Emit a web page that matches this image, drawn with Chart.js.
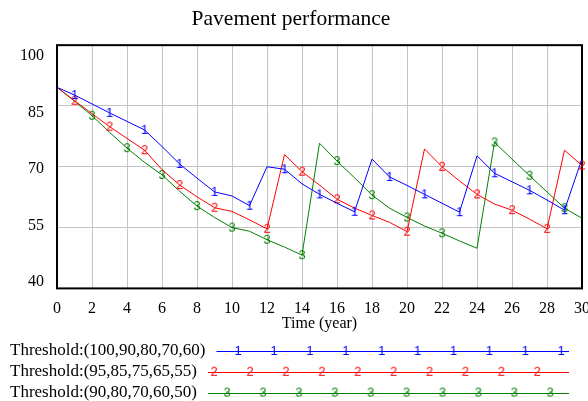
<!DOCTYPE html>
<html>
<head>
<meta charset="utf-8">
<title>Pavement performance</title>
<script src="https://cdn.jsdelivr.net/npm/chart.js@4.4.1/dist/chart.umd.min.js"></script>
<style>
  html, body { margin: 0; padding: 0; background: #fff; }
  #wrap { position: relative; width: 588px; height: 401px; }
</style>
</head>
<body>
<div id="wrap"><canvas id="chart" width="588" height="401"></canvas></div>
<script>
// time axis, one value per year
const years = [0,1,2,3,4,5,6,7,8,9,10,11,12,13,14,15,16,17,18,19,20,21,22,23,24,25,26,27,28,29,30]

const threshold1 = [89.6, 87.7, 85.5, 83.3, 81.2, 79.1, 75.0, 70.7, 67.2, 63.8, 62.8, 60.4, 70.0, 69.4, 65.8, 63.2,
                    61.0, 58.9, 71.9, 67.5, 65.4, 63.2, 61.0, 58.8, 72.7, 68.4, 66.3, 64.2, 61.8, 59.3, 72.0]
const threshold2 = [89.6, 86.3, 83.1, 79.9, 77.0, 74.1, 69.3, 65.5, 62.6, 59.9, 59.0, 56.9, 54.7, 73.0, 68.8, 65.5,
                    62.0, 59.8, 58.0, 56.3, 54.0, 74.4, 70.0, 66.5, 63.2, 60.8, 59.3, 57.1, 54.7, 74.1, 70.3]
const threshold3 = [89.6, 86.2, 82.6, 78.5, 74.6, 71.1, 68.0, 64.0, 60.3, 57.5, 55.0, 54.1, 52.0, 50.2, 48.2, 75.8,
                    71.4, 67.3, 63.0, 59.8, 57.5, 55.4, 53.6, 51.7, 49.9, 76.0, 71.9, 67.8, 63.8, 59.8, 57.3]

const seriesNames = ["Threshold:(100,90,80,70,60)", "Threshold:(95,85,75,65,55)", "Threshold:(90,80,70,60,50)"]

// years where the numbered marker sits on each curve
const marks1 = [1,3,5,7,9,11,13,15,17,19,21,23,25,27,29]
const marks2 = [1,3,5,7,9,12,14,16,18,20,22,24,26,28,30]
const marks3 = [2,4,6,8,10,12,14,16,18,20,22,25,27,29]

const yTicks = [40, 55, 70, 85, 100]

const serif = "'Liberation Serif', 'Times New Roman', serif"
const colors = ["#0000ff", "#ff0000", "#008000"]

function markerImg(ch, color){
    const c = document.createElement("canvas")
    c.width = 12
    c.height = 16
    const g = c.getContext("2d")
    g.font = "13px 'Liberation Sans', Arial, sans-serif"
    g.fillStyle = color
    g.textAlign = "center"
    g.textBaseline = "middle"
    g.fillText(ch, 6, 8.5)
    return c
}
const markerImgs = ["1", "2", "3"].map((ch, i) => markerImg(ch, colors[i]))

function dataset(i, values, marks){
    return {
        label: seriesNames[i],
        data: values,
        borderColor: colors[i],
        backgroundColor: colors[i],
        borderWidth: 1,
        tension: 0,
        clip: false,
        pointStyle: markerImgs[i],
        pointRadius: ctx => marks.includes(years[ctx.dataIndex]) ? 4 : 0,
        pointHoverRadius: 0
    }
}

// black frame round the plot
const frame = {
    id: "frame",
    beforeDatasetsDraw(chart){
        const {ctx, chartArea: a} = chart
        ctx.save()
        ctx.strokeStyle = "#000"
        ctx.lineWidth = 2
        ctx.strokeRect(a.left, a.top, a.right - a.left, a.bottom - a.top)
        ctx.restore()
    }
}

// legend rows under the axis title
const legendFirstMark = [238, 214, 227]
const legendRows = {
    id: "legendRows",
    afterDraw(chart){
        const ctx = chart.ctx
        ctx.save()
        ctx.font = "17px " + serif
        ctx.textBaseline = "middle"
        chart.data.datasets.forEach((ds, i) => {
            const y = 351 + i * 20.8
            ctx.fillStyle = "#000"
            ctx.textAlign = "left"
            ctx.fillText(ds.label, 10, y)
            const x0 = 10 + ctx.measureText(ds.label).width + 11
            ctx.strokeStyle = ds.borderColor
            ctx.lineWidth = 1
            ctx.beginPath()
            ctx.moveTo(x0, Math.round(y) + 0.5)
            ctx.lineTo(569, Math.round(y) + 0.5)
            ctx.stroke()
            const img = markerImgs[i]
            for (let x = legendFirstMark[i]; x < 569; x += 35.9) {
                ctx.drawImage(img, x - img.width / 2, y - img.height / 2)
            }
        })
        ctx.restore()
    }
}

const gridColor = "#c4c4c4"

new Chart(document.getElementById("chart").getContext("2d"), {
    type: "line",
    data: {
        labels: years,
        datasets: [
            dataset(0, threshold1, marks1),
            dataset(1, threshold2, marks2),
            dataset(2, threshold3, marks3)
        ]
    },
    options: {
        responsive: false,
        devicePixelRatio: 1,
        animation: false,
        events: [],
        layout: { padding: { top: 0, right: 6, bottom: 68, left: 0 } },
        plugins: {
            legend: { display: false },
            tooltip: { enabled: false },
            title: {
                display: true,
                text: "Pavement performance",
                color: "#000",
                font: { family: serif, size: 21.5, weight: "normal", lineHeight: 1.1 },
                padding: { top: 8, bottom: 13.5 }
            }
        },
        scales: {
            x: {
                type: "linear",
                min: 0,
                max: 30,
                ticks: { stepSize: 2, color: "#000", font: { family: serif, size: 16 }, padding: 11, maxRotation: 0, autoSkip: false },
                grid: { color: gridColor, lineWidth: 1, drawTicks: false },
                border: { display: false },
                title: { display: true, text: "Time (year)", color: "#000", font: { family: serif, size: 16 }, padding: 0 },
                afterFit(s){ s.height = 44.6; s.paddingLeft = 0; s.paddingRight = 0 }
            },
            y: {
                min: 40,
                max: 100,
                ticks: { stepSize: 15, display: false },
                grid: { color: gridColor, lineWidth: 1, drawTicks: false },
                border: { display: false },
                afterFit(s){ s.width = 0 }
            },
            yl: {
                position: "left",
                min: 38.3,
                max: 102.84,
                grid: { display: false, drawTicks: false },
                border: { display: false },
                afterBuildTicks(s){ s.ticks = yTicks.map(v => ({ value: v })) },
                ticks: { color: "#000", font: { family: serif, size: 16 }, padding: 13 },
                afterFit(s){ s.width = 57; s.paddingTop = 0; s.paddingBottom = 0 }
            }
        }
    },
    plugins: [frame, legendRows]
})
</script>
</body>
</html>
